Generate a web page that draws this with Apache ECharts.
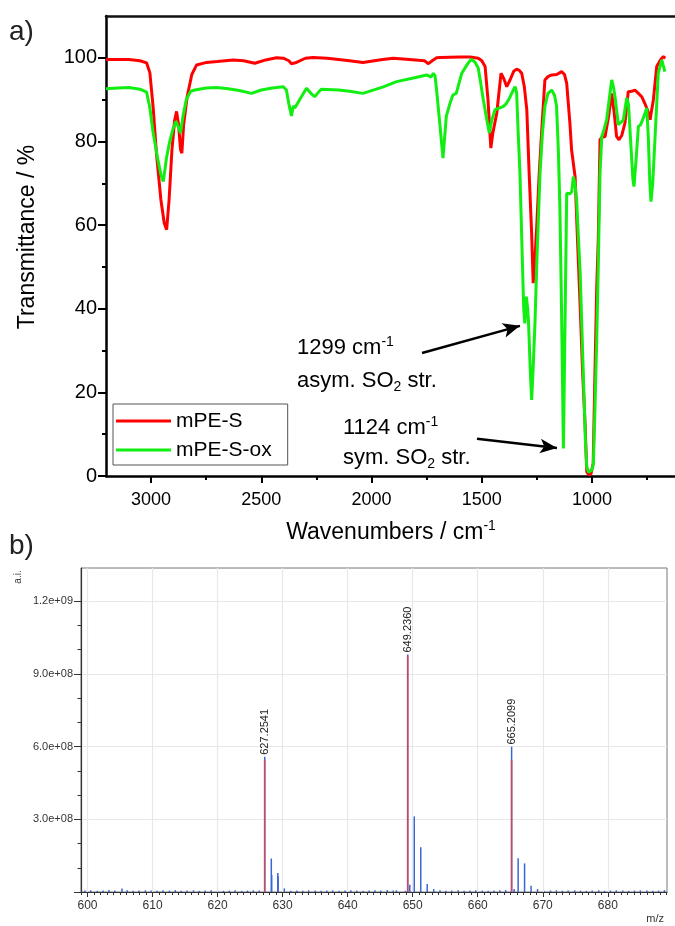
<!DOCTYPE html>
<html><head><meta charset="utf-8">
<script src="https://cdn.jsdelivr.net/npm/echarts@6/dist/echarts.min.js"></script>
<style>html,body{margin:0;padding:0;background:#fff}#c{width:675px;height:926px}</style>
</head><body><div id="c"></div>
<script>
// ---------- panel a) IR spectra ----------
const irRedWn = [3204,3100,3050,3020,3005,2990,2975,2955,2940,2929,2918,2905,2893,2884,2875,2866,2860,2852,2836,2815,2793,2748,2700,2627,2580,2529,2480,2431,2400,2375,2363,2345,2300,2266,2200,2100,2039,1950,1901,1800,1760,1742,1725,1705,1689,1600,1553,1516,1500,1485,1472,1459,1450,1432,1413,1400,1387,1372,1355,1342,1330,1319,1307,1296,1285,1274,1267,1259,1251,1240,1229,1214,1200,1183,1160,1138,1125,1115,1100,1093,1077,1065,1054,1043,1032,1024,1015,1005,995,987,979,972,964,955,941,925,911,900,889,878,865,851,836,820,806,790,783,775,760,745,737,722,707,690,677,668];
const irRedT  = [99.6,99.6,99.3,98.8,96.4,88,77,66,60.5,58.9,66,78,85,87.2,84,78,77.2,84,90.7,96,98.3,98.9,99.1,99.5,99.3,98.7,99.5,100.0,99.9,99.3,98.6,98.8,99.9,100.1,99.9,99.3,98.9,99.6,99.9,99.5,99.3,98.6,99.3,100.0,100.1,100.2,100.2,99.9,99.3,97.9,90,78.4,82,86.8,96.3,95,93.1,94.7,96.8,97.3,97,96.3,93,87.6,72,58,46.1,52,59.6,72,82,94.7,95.5,95.9,96,96.7,96,93.9,84,78,71.6,55,40.5,25,12.7,1,0.3,0.5,3,24.6,45,56.5,80.4,81,81.2,86,91.5,87,81.2,80.4,81.5,84.4,91.9,92,92.3,91.5,91.1,90.7,89,87,85.2,90,97.9,99.5,100.3,99.9];
const irGreenWn = [3204,3150,3100,3050,3020,3005,2990,2970,2955,2944,2930,2915,2900,2887,2876,2866,2855,2840,2820,2801,2750,2703,2650,2600,2544,2500,2450,2400,2386,2375,2363,2355,2348,2320,2295,2275,2258,2240,2228,2150,2100,2039,1950,1886,1800,1750,1730,1720,1712,1705,1690,1676,1661,1645,1631,1616,1591,1565,1548,1530,1516,1505,1493,1480,1466,1455,1440,1420,1402,1390,1379,1360,1349,1342,1335,1327,1318,1310,1305,1298,1292,1288,1280,1274,1267,1259,1250,1236,1225,1214,1200,1183,1170,1161,1153,1146,1138,1130,1123,1115,1108,1100,1092,1085,1078,1070,1062,1054,1040,1030,1024,1016,1009,1000,994,987,979,972,964,956,945,934,920,911,903,896,881,870,858,850,843,835,825,815,810,800,790,780,765,752,745,738,733,725,715,700,684,676,670];
const irGreenT  = [92.6,92.8,92.9,92.5,91.8,88,82,76,72,70.4,76,80,83,84.8,83.5,82,86,90,92,92.3,92.8,92.9,92.6,92.2,91.5,92.3,92.8,93.1,92.3,89,86.1,88.5,88.0,90.5,92.7,91.5,90.7,91.8,92.5,92.3,92,91.5,93,94.3,95.3,95.9,95.4,96.3,95.7,92.3,84,76.0,86,89,91.1,91.5,96.3,98.5,99.7,98.9,97.5,94,89.9,86,82,85,87.6,88,88.4,89,89.9,92,93.1,91.6,82,72.4,55,40,36.5,42.9,40,36.5,25,18.2,26,36.5,52,72.4,82,88.4,91.5,92.3,91,88.4,78,64.4,38,6.6,35,67.6,67.8,67.5,68,71.6,70,66,57,48.5,25,8,2.2,0.9,1,1.5,3,16,32.5,50,72.4,81.2,83,85.2,91,94.7,93,90.7,84,84.5,85.2,88,90.4,89,80,71,69.2,76,83.6,84,86,88,81,70,65.6,70,80.4,96.3,99.5,99.9,96.7];
const irXMajor = [1000,1500,2000,2500,3000];
const irXMinor = [750,1250,1750,2250,2750];
const irYMajor = [0,20,40,60,80,100];
const irYMinor = [10,30,50,70,90];
const arrow1 = [[1771,29.4],[1327,35.9]];
const arrow2 = [[1522,8.9],[1159,6.7]];

// ---------- panel b) mass spectrum ----------
const msMz  = [605.3,627.2541,628.26,628.32,629.26,629.31,630.26,631.25,647.5,648.9,649.2360,649.55,650.24,651.24,652.23,653.23,665.2099,665.6,666.21,667.2,668.2,669.2,670.2];
const msInt = [1.4e7,5.58e8,1.38e8,7.0e7,7.8e7,6.5e7,1.5e7,5e6,7e6,5e6,9.8e8,3.0e7,3.12e8,1.85e8,3.3e7,1.2e7,6.0e8,1.2e7,1.39e8,1.18e8,2.6e7,1.2e7,5e6];
const msNoiseMz  = [599.6,600.5,601.5,602.4,603.3,604.2,606.1,607.0,607.9,608.9,609.8,610.7,611.6,612.6,613.5,614.4,615.3,616.3,617.2,618.1,619.0,620.0,620.9,621.8,622.7,623.7,624.6,625.5,626.4,632.2,633.1,634.0,635.0,635.9,636.8,637.7,638.7,639.6,640.5,641.4,642.4,643.3,644.2,645.1,646.1,647.0,654.2,655.1,656.0,657.0,657.9,658.8,659.7,660.7,661.6,662.5,663.4,664.3,671.2,672.1,673.0,673.9,674.9,675.8,676.7,677.6,678.6,679.5,680.4,681.3,682.3,683.2,684.1,685.0,686.0,686.9,687.8,688.7];
const msNoiseInt = [6e6,7e6,5e6,6e6,8e6,6e6,7e6,5e6,6e6,7e6,6e6,5e6,7e6,6e6,8e6,5e6,6e6,7e6,5e6,6e6,7e6,6e6,5e6,6e6,7e6,5e6,6e6,7e6,6e6,6e6,5e6,7e6,6e6,5e6,6e6,7e6,5e6,6e6,7e6,6e6,5e6,6e6,7e6,6e6,8e6,6e6,7e6,5e6,6e6,7e6,5e6,6e6,7e6,6e6,5e6,6e6,7e6,8e6,6e6,7e6,5e6,6e6,7e6,6e6,5e6,6e6,7e6,5e6,6e6,7e6,6e6,5e6,6e6,7e6,6e6,5e6,6e6,8e6];
const msTheoMz  = [627.2541,649.2360,665.2099];
const msTheoInt = [5.45e8,9.75e8,5.45e8];
const msLabels  = ['627.2541','649.2360','665.2099'];
const msXMajor = [600,610,620,630,640,650,660,670,680];
const msYMajor = [0,3e8,6e8,9e8,1.2e9];
const msYLabels = [3e8,6e8,9e8,1.2e9];
const msYMinor = [1e8,2e8,4e8,5e8,7e8,8e8,1e9,1.1e9];

const FONT = 'Liberation Sans, Arial, Helvetica, sans-serif';
const msXMinor = [];
for (let v = 599; v <= 689; v++) if (v % 10 !== 0) msXMinor.push(v);

function zip(a, b) { return a.map((v, i) => [v, b[i]]); }

const blueData = zip(msMz, msInt).map(p => {
  const li = msLabels.indexOf(p[0].toFixed(4));
  if (li >= 0) {
    return { value: p, label: { show: true, formatter: msLabels[li] } };
  }
  return { value: p };
}).concat(zip(msNoiseMz, msNoiseInt).map(p => ({ value: p })));

function fmtExp(v) {
  if (v === 0) return '0';
  const e = Math.floor(Math.log10(v) + 1e-9);
  const m = v / Math.pow(10, e);
  return m.toFixed(1) + 'e+' + (e < 10 ? '0' + e : '' + e);
}
function plain(v) { return String(v); }

const chart = echarts.init(document.getElementById('c'), null, { renderer: 'canvas' });
const irXmin = 624, irXmax = 3204;
const msXmin = 599, msXmax = 689.1;

const option = {
  backgroundColor: '#fff',
  animation: false,
  textStyle: { fontFamily: FONT },
  grid: [
    { left: 106, right: 0, top: 16, bottom: 450 },
    { left: 81, right: 8, top: 568, bottom: 34, show: true, borderColor: '#777', borderWidth: 1, backgroundColor: 'transparent' }
  ],
  legend: {
    data: ['mPE-S', 'mPE-S-ox'],
    orient: 'vertical', left: 113, top: 404,
    itemWidth: 55, itemHeight: 3, icon: 'rect', itemGap: 5,
    borderColor: '#555', borderWidth: 1, padding: [5, 16, 3, 3],
    backgroundColor: '#fff',
    textStyle: { fontSize: 21, color: '#000', fontFamily: FONT, lineHeight: 24 }
  },
  xAxis: [
    { gridIndex: 0, type: 'value', position: 'bottom', min: irXmin, max: irXmax, inverse: true,
      axisLine: { onZero: false, lineStyle: { color: '#000', width: 2.5 } },
      axisTick: { customValues: irXMajor, length: 7, lineStyle: { color: '#000', width: 2 } },
      axisLabel: { customValues: irXMajor, fontSize: 18, color: '#000', margin: 15, fontFamily: FONT, formatter: plain },
      splitLine: { show: false } },
    { gridIndex: 0, type: 'value', position: 'bottom', min: irXmin, max: irXmax, inverse: true,
      axisLine: { show: false, onZero: false },
      axisTick: { customValues: irXMinor, length: 4, lineStyle: { color: '#000', width: 2 } },
      axisLabel: { show: false }, splitLine: { show: false } },
    { gridIndex: 0, type: 'value', position: 'top', min: irXmin, max: irXmax, inverse: true,
      axisLine: { onZero: false, lineStyle: { color: '#111', width: 2.5 } },
      axisTick: { show: false }, axisLabel: { show: false }, splitLine: { show: false } },
    { gridIndex: 1, type: 'value', position: 'bottom', min: msXmin, max: msXmax,
      axisLine: { onZero: false, lineStyle: { color: '#333', width: 1.2 } },
      axisTick: { customValues: msXMajor, length: 5, lineStyle: { color: '#333', width: 1 } },
      axisLabel: { customValues: msXMajor, fontSize: 12, color: '#333', margin: 8, fontFamily: FONT, formatter: plain },
      splitLine: { show: false } },
    { gridIndex: 1, type: 'value', position: 'bottom', min: msXmin, max: msXmax,
      axisLine: { show: false, onZero: false },
      axisTick: { customValues: msXMinor, length: 3, lineStyle: { color: '#333', width: 1 } },
      axisLabel: { show: false }, splitLine: { show: false } },
    { gridIndex: 1, type: 'value', show: false, min: msXmin, max: msXmax }
  ],
  yAxis: [
    { gridIndex: 0, type: 'value', position: 'left', min: 0, max: 110,
      axisLine: { show: true, onZero: false, lineStyle: { color: '#000', width: 2.5 } },
      axisTick: { show: true, customValues: irYMajor, length: 8, lineStyle: { color: '#000', width: 2 } },
      axisLabel: { customValues: irYMajor, fontSize: 20, color: '#000', margin: 9, fontFamily: FONT, formatter: plain },
      splitLine: { show: false } },
    { gridIndex: 0, type: 'value', position: 'left', min: 0, max: 110,
      axisLine: { show: false },
      axisTick: { show: true, customValues: irYMinor, length: 4, lineStyle: { color: '#000', width: 2 } },
      axisLabel: { show: false }, splitLine: { show: false } },
    { gridIndex: 1, type: 'value', position: 'left', min: 0, max: 1.337e9, interval: 3e8,
      axisLine: { show: true, onZero: false, lineStyle: { color: '#333', width: 1.2 } },
      axisTick: { show: true, customValues: msYMajor, length: 7, lineStyle: { color: '#333', width: 1 } },
      axisLabel: { customValues: msYLabels, fontSize: 11, color: '#333', margin: 8, fontFamily: FONT, formatter: fmtExp },
      splitLine: { show: true, lineStyle: { color: '#e8e8e8', width: 1.2 } } },
    { gridIndex: 1, type: 'value', position: 'left', min: 0, max: 1.337e9,
      axisLine: { show: false },
      axisTick: { show: true, customValues: msYMinor, length: 3.5, lineStyle: { color: '#333', width: 1 } },
      axisLabel: { show: false }, splitLine: { show: false } }
  ],
  series: [
    { name: 'mPE-S', type: 'line', xAxisIndex: 0, yAxisIndex: 0, data: zip(irRedWn, irRedT),
      showSymbol: false, symbol: 'none', lineStyle: { color: '#ff0000', width: 3 }, itemStyle: { color: '#ff0000' }, z: 2 },
    { name: 'mPE-S-ox', type: 'line', xAxisIndex: 0, yAxisIndex: 0, data: zip(irGreenWn, irGreenT),
      showSymbol: false, symbol: 'none', lineStyle: { color: '#11ee11', width: 3 }, itemStyle: { color: '#11ee11' }, z: 3,
      markLine: {
        silent: true, symbol: ['none', 'arrow'], symbolSize: [11, 17], animation: false,
        lineStyle: { color: '#000', width: 2.5, type: 'solid' }, itemStyle: { color: '#000' },
        label: { show: false }, emphasis: { disabled: true },
        data: [
          [{ coord: arrow1[0] }, { coord: arrow1[1] }],
          [{ coord: arrow2[0] }, { coord: arrow2[1] }]
        ]
      } },
    { name: 'gridx', type: 'line', xAxisIndex: 3, yAxisIndex: 2, data: [[msXmin, 0]], showSymbol: false, symbol: 'none',
      lineStyle: { opacity: 0 }, z: 1, silent: true,
      markLine: { silent: true, symbol: 'none', animation: false, label: { show: false },
        lineStyle: { color: '#e8e8e8', width: 1.2, type: 'solid' }, emphasis: { disabled: true },
        data: msXMajor.map(v => ({ xAxis: v })) } },
    { name: 'measured', type: 'bar', xAxisIndex: 3, yAxisIndex: 2, data: blueData, barWidth: 1.5,
      itemStyle: { color: '#3a66d4' }, z: 3, silent: true,
      label: { show: false, position: 'top', rotate: 90, align: 'left', verticalAlign: 'middle', distance: 2,
        fontSize: 11, color: '#222', fontFamily: FONT } },
    { name: 'theoretical', type: 'bar', xAxisIndex: 5, yAxisIndex: 2, data: zip(msTheoMz, msTheoInt), barWidth: 2,
      itemStyle: { color: 'rgba(238,70,70,0.65)' }, z: 4, silent: true }
  ],
  graphic: [
    { type: 'text', x: 9, y: 32, style: { text: 'a)', fontSize: 28, fontFamily: FONT, fill: '#222', verticalAlign: 'middle' } },
    { type: 'text', x: 9, y: 546, style: { text: 'b)', fontSize: 28, fontFamily: FONT, fill: '#222', verticalAlign: 'middle' } },
    { type: 'text', x: 28, y: 237, rotation: Math.PI / 2,
      style: { text: 'Transmittance / %', fontSize: 23, fontFamily: FONT, fill: '#000', align: 'center', verticalAlign: 'middle' } },
    { type: 'text', x: 391, y: 533,
      style: { text: 'Wavenumbers / cm{sup|-1}', fontSize: 23, fontFamily: FONT, fill: '#000', align: 'center', verticalAlign: 'middle', lineHeight: 28,
        rich: { sup: { fontSize: 14, verticalAlign: 'top', lineHeight: 28, fill: '#000', fontFamily: FONT } } } },
    { type: 'text', x: 297, y: 348,
      style: { text: '1299 cm{sup|-1}', fontSize: 22, fontFamily: FONT, fill: '#000', align: 'left', verticalAlign: 'middle', lineHeight: 26,
        rich: { sup: { fontSize: 14, verticalAlign: 'top', lineHeight: 26, fill: '#000', fontFamily: FONT } } } },
    { type: 'text', x: 297, y: 381,
      style: { text: 'asym. SO{sub|2} str.', fontSize: 22, fontFamily: FONT, fill: '#000', align: 'left', verticalAlign: 'middle', lineHeight: 26,
        rich: { sub: { fontSize: 14, verticalAlign: 'bottom', lineHeight: 26, fill: '#000', fontFamily: FONT } } } },
    { type: 'text', x: 343, y: 428,
      style: { text: '1124 cm{sup|-1}', fontSize: 22, fontFamily: FONT, fill: '#000', align: 'left', verticalAlign: 'middle', lineHeight: 26,
        rich: { sup: { fontSize: 14, verticalAlign: 'top', lineHeight: 26, fill: '#000', fontFamily: FONT } } } },
    { type: 'text', x: 343, y: 458,
      style: { text: 'sym. SO{sub|2} str.', fontSize: 22, fontFamily: FONT, fill: '#000', align: 'left', verticalAlign: 'middle', lineHeight: 26,
        rich: { sub: { fontSize: 14, verticalAlign: 'bottom', lineHeight: 26, fill: '#000', fontFamily: FONT } } } },
    { type: 'text', x: 18, y: 577, rotation: Math.PI / 2,
      style: { text: 'a.i.', fontSize: 10, fontFamily: FONT, fill: '#333', align: 'center', verticalAlign: 'middle' } },
    { type: 'text', x: 664, y: 919,
      style: { text: 'm/z', fontSize: 11, fontFamily: FONT, fill: '#333', align: 'right', verticalAlign: 'middle' } }
  ]
};
chart.setOption(option);
</script>
</body></html>
